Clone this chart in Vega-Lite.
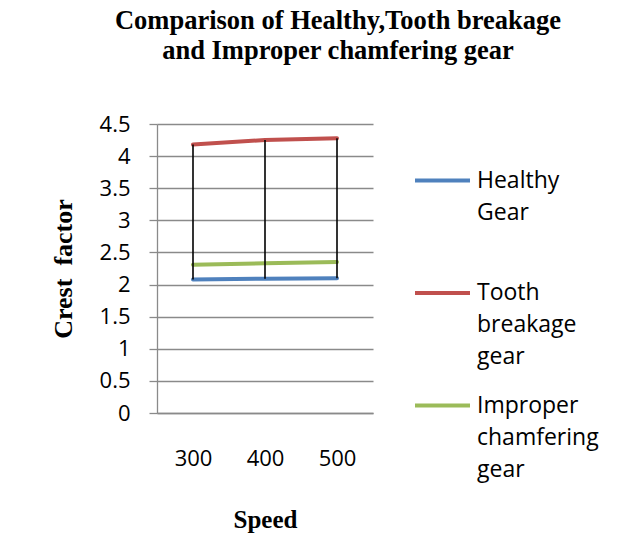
{
  "$schema": "https://vega.github.io/schema/vega-lite/v6.json",
  "autosize": "none",
  "width": 216,
  "height": 289,
  "padding": {"left": 157, "top": 124, "right": 245, "bottom": 137},
  "background": "white",
  "title": {
    "text": ["Comparison of Healthy,Tooth breakage", "and Improper chamfering gear"],
    "font": "Liberation Serif",
    "fontSize": 26.5,
    "fontWeight": "bold",
    "color": "black",
    "lineHeight": 30,
    "anchor": "middle",
    "dx": 73,
    "offset": 49
  },
  "config": {
    "view": {"stroke": null},
    "axis": {"labelFont": "Open Sans", "labelFontSize": 22, "labelColor": "black", "titleFont": "Liberation Serif", "titleFontSize": 25, "titleFontWeight": "bold", "titleColor": "black"},
    "axisY": {"values": [0, 0.5, 1, 1.5, 2, 2.5, 3, 3.5, 4, 4.5], "format": ".1~f", "labelOverlap": false, "labelFlush": false, "labelBaseline": "middle", "tickSize": 8, "labelPadding": 19, "tickColor": "#8a8a8a", "tickWidth": 1.3, "gridColor": "#8a8a8a", "gridWidth": 1.3, "domainColor": "#8a8a8a", "domainWidth": 1.3, "titleFontSize": 26, "titleAngle": 270, "titleAlign": "center", "titleBaseline": "alphabetic", "titleX": -86, "titleY": 144.5}
  },
  "data": {
    "values": [
      {"speed": "300", "series": "Healthy Gear", "value": 2.08},
      {"speed": "400", "series": "Healthy Gear", "value": 2.09},
      {"speed": "500", "series": "Healthy Gear", "value": 2.10},
      {"speed": "300", "series": "Tooth breakage gear", "value": 4.18},
      {"speed": "400", "series": "Tooth breakage gear", "value": 4.25},
      {"speed": "500", "series": "Tooth breakage gear", "value": 4.28},
      {"speed": "300", "series": "Improper chamfering gear", "value": 2.31},
      {"speed": "400", "series": "Improper chamfering gear", "value": 2.33},
      {"speed": "500", "series": "Improper chamfering gear", "value": 2.35}
    ]
  },
  "encoding": {
    "x": {
      "field": "speed", "type": "ordinal",
      "scale": {"type": "point", "padding": 0.5},
      "axis": {"title": "Speed", "labelAngle": 0, "ticks": false, "tickSize": 0, "labelPadding": 45, "labelBaseline": "middle", "grid": false, "domainColor": "#8a8a8a", "domainWidth": 1.3, "titleBaseline": "alphabetic", "titleY": 114}
    }
  },
  "layer": [
    {
      "mark": {"type": "line", "strokeWidth": 4, "strokeCap": "round"},
      "encoding": {
        "y": {
          "field": "value", "type": "quantitative",
          "scale": {"domain": [0, 4.5], "nice": false},
          "axis": {"title": "Crest\u00a0 factor", "values": [0, 0.5, 1, 1.5, 2, 2.5, 3, 3.5, 4, 4.5], "format": ".1~f", "labelOverlap": false}
        },
        "color": {
          "field": "series", "type": "nominal",
          "scale": {"domain": ["Healthy Gear", "Tooth breakage gear", "Improper chamfering gear"], "range": ["#4F81BD", "#C0504D", "#9BBB59"]},
          "legend": {
            "title": null,
            "orient": "none",
            "legendX": 256,
            "legendY": 27,
            "symbolType": "stroke",
            "symbolSize": 3025,
            "symbolStrokeWidth": 4,
            "labelFont": "Open Sans",
            "labelFontSize": 23,
            "labelColor": "black",
            "labelBaseline": "middle",
            "labelOffset": 5,
            "labelLimit": 300,
            "rowPadding": 6.5,
            "encode": {"labels": {"update": {"lineHeight": {"value": 32}}}},
            "labelExpr": "datum.label == 'Healthy Gear' ? ['Healthy', 'Gear', ' '] : datum.label == 'Tooth breakage gear' ? ['Tooth', 'breakage', 'gear'] : ['Improper', 'chamfering', 'gear']"
          }
        }
      }
    },
    {
      "mark": {"type": "rule", "color": "black", "strokeWidth": 1.6},
      "encoding": {
        "y": {"aggregate": "max", "field": "value", "type": "quantitative", "axis": {"title": "Crest\u00a0 factor", "values": [0, 0.5, 1, 1.5, 2, 2.5, 3, 3.5, 4, 4.5], "format": ".1~f", "labelOverlap": false}},
        "y2": {"aggregate": "min", "field": "value"}
      }
    }
  ]
}
